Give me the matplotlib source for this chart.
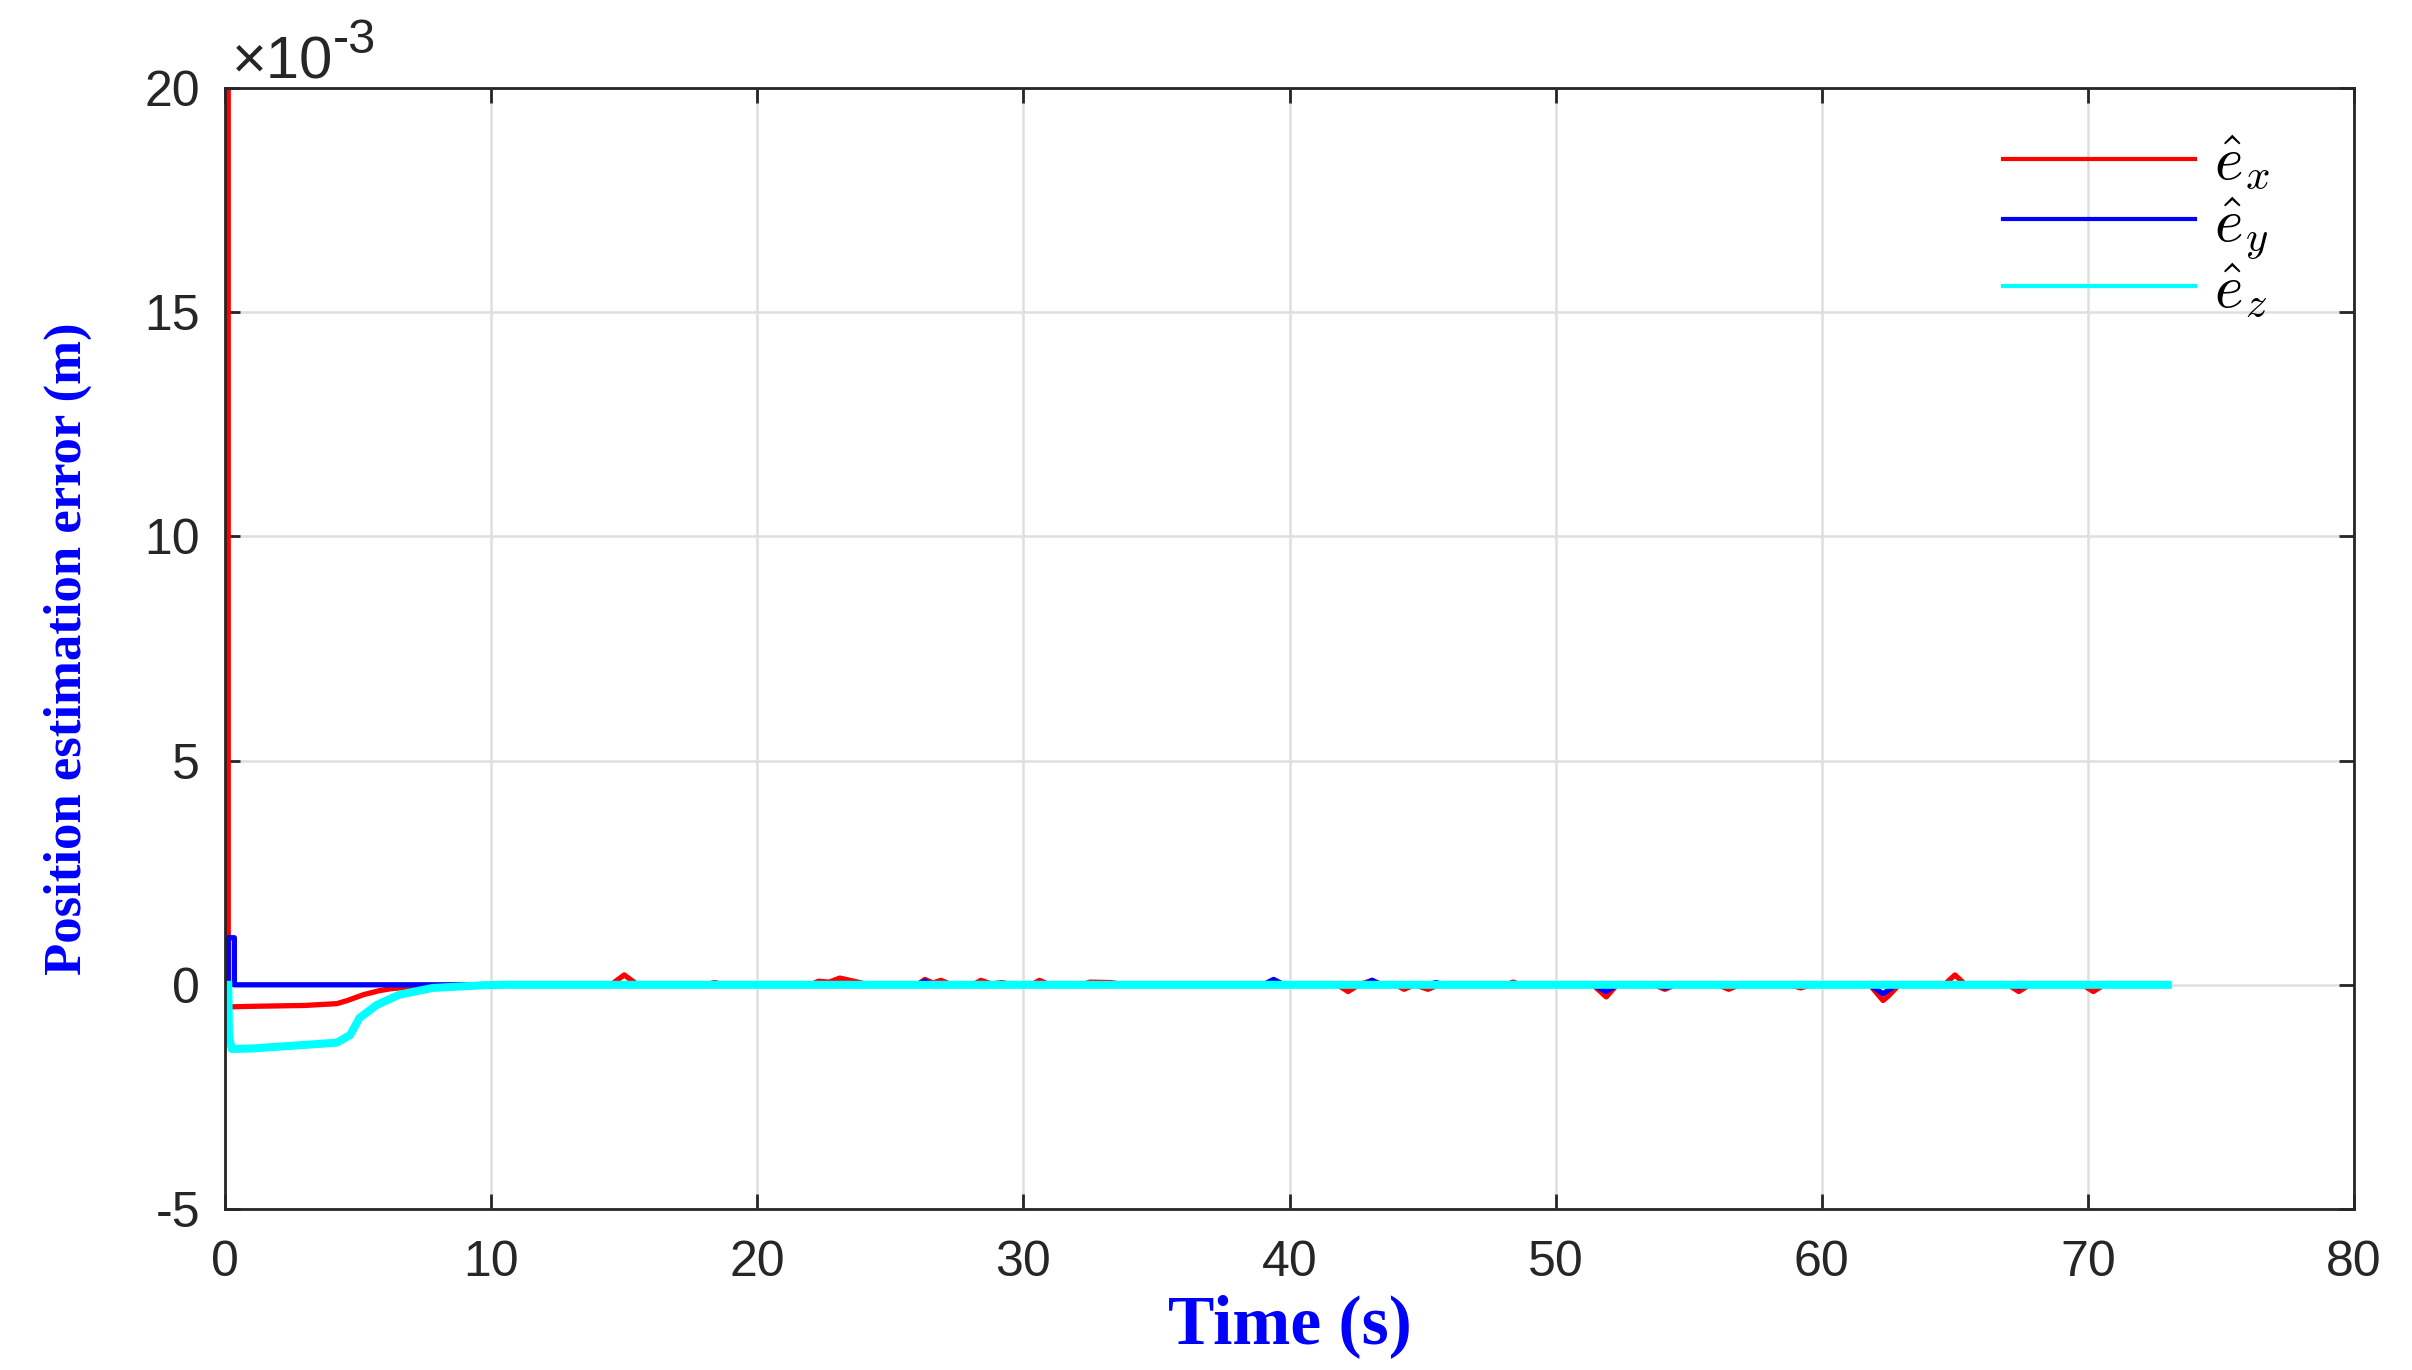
import numpy as np
import matplotlib
matplotlib.use("Agg")
import matplotlib.pyplot as plt
from matplotlib.ticker import FuncFormatter

plt.rcParams['font.family'] = ['Liberation Sans', 'DejaVu Sans']
plt.rcParams['mathtext.fontset'] = 'cm'
plt.rcParams['axes.unicode_minus'] = False

# values in units of 1e-3 m
t_x = [0.12, 0.12, 0.3, 1, 2, 3, 4.2, 4.6, 5.2, 5.8, 6.2, 7.3, 8.5, 10,
       14.5, 15.0, 15.5, 18, 18.4, 18.8, 22, 22.3, 22.7, 23.1, 23.7, 24.2,
       26, 26.3, 26.6, 26.9, 27.3, 28.1, 28.4, 28.8, 29.2, 29.6, 30.3, 30.6,
       31, 32.2, 32.5, 33.3, 33.8, 41.8, 42.2, 42.6, 43.1, 43.5, 44, 44.3,
       44.7, 45.2, 45.6, 48.1, 48.4, 48.7, 51.4, 51.9, 52.3, 53.7, 54.1, 54.5,
       56.1, 56.5, 56.9, 58.8, 59.2, 59.6, 61.8, 62.3, 62.5, 62.9, 64.6, 65.0,
       65.4, 67.0, 67.4, 67.8, 69.8, 70.2, 70.6, 73]
e_x = [20, -0.49, -0.49, -0.48, -0.47, -0.46, -0.42, -0.35, -0.22, -0.13, -0.09, -0.03, -0.01, 0,
       0, 0.22, 0, 0, 0.05, 0, 0, 0.08, 0.06, 0.15, 0.07, 0,
       0, 0.12, 0.04, 0.1, 0, 0, 0.1, 0.02, 0.05, 0, 0, 0.1,
       0, 0, 0.06, 0.05, 0, 0, -0.15, 0, 0.1, 0, 0, -0.1,
       0, -0.1, 0, 0, 0.06, 0, 0, -0.27, 0, 0, -0.1, 0,
       0, -0.1, 0, 0, -0.07, 0, 0, -0.35, -0.25, 0, 0, 0.22,
       0, 0, -0.15, 0, 0, -0.15, 0, 0]

t_y = [0.12, 0.12, 0.35, 0.35, 10, 26, 26.3, 26.6, 39.0, 39.4, 39.8, 42.8, 43.1, 43.4,
       45.2, 45.5, 45.8, 51.4, 51.9, 52.3, 53.7, 54.1, 54.5, 61.8, 62.3, 62.8,
       67.0, 67.4, 67.8, 73]
e_y = [0, 1.05, 1.05, 0, 0, 0, 0.08, 0, 0, 0.12, 0, 0, 0.1, 0,
       0, 0.05, 0, 0, -0.15, 0, 0, -0.06, 0, 0, -0.2, 0,
       0, -0.05, 0, 0]

t_z = [0.12, 0.15, 0.25, 1, 2, 3, 4.2, 4.7, 5.05, 5.7, 6.55, 7.8, 9.7, 10.5, 73]
e_z = [0, -1.15, -1.43, -1.42, -1.38, -1.34, -1.29, -1.12, -0.74, -0.45, -0.22, -0.07, -0.01, 0, 0]

fig = plt.figure(figsize=(24.12, 13.7), dpi=100)
ax = fig.add_axes([0.0933, 0.1175, 0.8827, 0.8183])

ax.plot(t_x, np.array(e_x) * 1e-3, color='#ff0000', lw=3.8, label=r'$\hat{e}_x$')
ax.plot(t_y, np.array(e_y) * 1e-3, color='#0000ff', lw=3.8, label=r'$\hat{e}_y$')
ax.plot(t_z, np.array(e_z) * 1e-3, color='#00ffff', lw=5.8, label=r'$\hat{e}_z$')

ax.set_xlim(0, 80)
ax.set_ylim(-5e-3, 20e-3)
ax.set_xticks(np.arange(0, 81, 10))
ax.set_yticks(np.arange(-5e-3, 20.1e-3, 5e-3))
ax.yaxis.set_major_formatter(FuncFormatter(lambda v, p: f'{round(v * 1e3):d}'))

# MATLAB style exponent label
ax.text(0.003, 0.998, '×10', transform=ax.transAxes, fontsize=43,
        color='#262626', ha='left', va='bottom')
ax.text(0.0505, 1.022, '-3', transform=ax.transAxes, fontsize=35,
        color='#262626', ha='left', va='bottom')

ax.grid(True, color='#dfdfdf', lw=1.8)
ax.set_axisbelow(True)
ax.tick_params(direction='in', length=11, width=2, top=True, right=True,
               labelsize=36, colors='#262626')
ax.tick_params(axis='x', pad=22)
ax.tick_params(axis='y', pad=18)
for s in ax.spines.values():
    s.set_linewidth(2)
    s.set_color('#262626')

ax.set_xlabel('Time (s)', fontsize=50, fontweight='bold', color='#0000ff',
              family='Liberation Serif', labelpad=6)
ax.set_ylabel('Position estimation error (m)', fontsize=38, fontweight='bold',
              color='#0000ff', family='Liberation Serif', labelpad=38)

leg = ax.legend(loc='upper left', bbox_to_anchor=(0.835, 0.958), frameon=False,
                fontsize=44, handlelength=3.15, handletextpad=0.3, labelspacing=0.03,
                borderpad=0, borderaxespad=0)
for ln in leg.get_lines():
    ln.set_linewidth(3)

fig.savefig('out.png', dpi=100)
